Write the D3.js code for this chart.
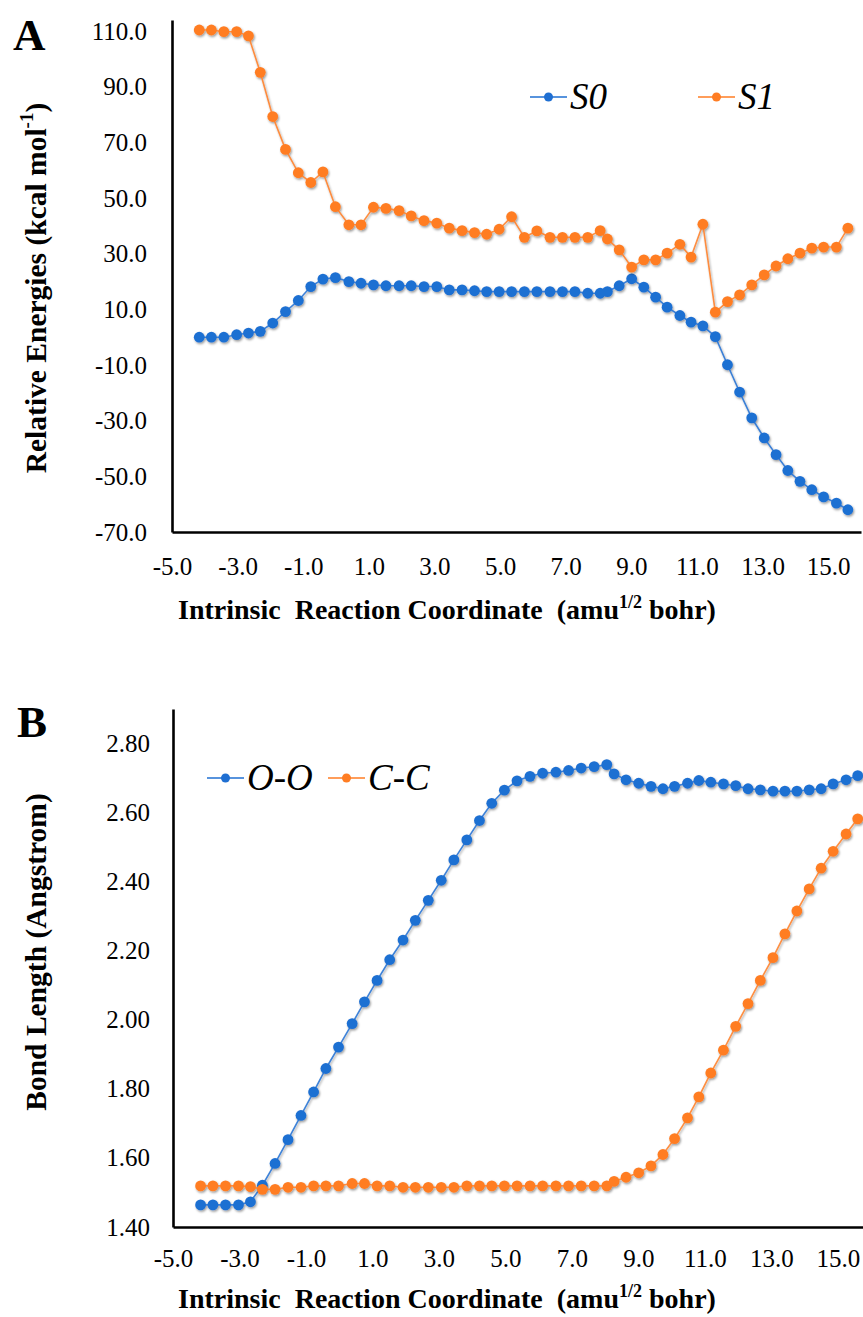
<!DOCTYPE html>
<html>
<head>
<meta charset="utf-8">
<script src="https://cdn.jsdelivr.net/npm/d3@7"></script>
<style>
  body { margin: 0; background: #fff; }
  svg { display: block; font-family: "Liberation Serif", "Times New Roman", serif; }
</style>
</head>
<body>
<div id="wrapper"></div>
<script>
// IRC coordinate of each point (same steps in both panels)
const irc = [
  -4.17, -3.80, -3.42, -3.03, -2.67, -2.31, -1.93, -1.54, -1.15, -0.77,
  -0.40, -0.02, 0.39, 0.76, 1.14, 1.52, 1.92, 2.29, 2.68, 3.07,
  3.45, 3.84, 4.22, 4.59, 4.97, 5.35, 5.74, 6.12, 6.52, 6.90,
  7.28, 7.67, 8.05, 8.27, 8.63, 9.01, 9.38, 9.74, 10.09, 10.48,
  10.82, 11.18, 11.56, 11.93, 12.30, 12.67, 13.05, 13.41, 13.77, 14.14,
  14.50, 14.86, 15.25, 15.60
]

// panel A: relative energies (kcal/mol)
const s0Energies = [
  0.0, 0.0, 0.0, 0.9, 1.5, 2.1, 5.1, 9.2, 13.2, 18.2,
  20.9, 21.4, 20.0, 19.4, 18.8, 18.5, 18.5, 18.5, 18.2, 18.2,
  17.0, 17.0, 16.7, 16.4, 16.4, 16.4, 16.4, 16.4, 16.4, 16.4,
  16.4, 15.8, 15.8, 16.4, 18.5, 21.0, 18.0, 14.4, 10.8, 7.8,
  5.4, 4.1, 0.2, -9.9, -19.7, -29.0, -36.2, -42.2, -47.9, -51.8,
  -54.8, -57.4, -59.6, -62.0
]
const s1Energies = [
  110.4, 110.4, 109.8, 109.8, 108.3, 95.2, 79.3, 67.5, 59.1, 55.6,
  59.4, 46.9, 40.4, 40.4, 46.7, 46.3, 45.5, 43.6, 41.9, 41.0,
  39.2, 38.3, 37.6, 37.0, 38.8, 43.3, 35.9, 38.2, 35.9, 35.9,
  35.9, 35.9, 38.3, 35.3, 31.4, 25.2, 27.8, 27.8, 30.2, 33.4,
  28.8, 40.6, 9.0, 12.8, 15.2, 18.8, 22.4, 25.6, 28.2, 30.2,
  32.0, 32.4, 32.4, 39.2
]

// panel B: bond lengths (Angstrom)
const ooLengths = [
  1.464, 1.464, 1.464, 1.464, 1.473, 1.521, 1.584, 1.653, 1.723, 1.791,
  1.859, 1.921, 1.989, 2.052, 2.114, 2.174, 2.231, 2.288, 2.346, 2.404,
  2.463, 2.521, 2.577, 2.627, 2.665, 2.692, 2.705, 2.714, 2.717, 2.722,
  2.729, 2.733, 2.739, 2.712, 2.695, 2.685, 2.676, 2.669, 2.676, 2.685,
  2.693, 2.688, 2.683, 2.678, 2.669, 2.666, 2.662, 2.662, 2.662, 2.666,
  2.669, 2.683, 2.695, 2.707
]
const ccLengths = [
  1.519, 1.519, 1.519, 1.519, 1.517, 1.509, 1.509, 1.515, 1.515, 1.519,
  1.519, 1.519, 1.526, 1.526, 1.519, 1.519, 1.515, 1.515, 1.515, 1.515,
  1.515, 1.519, 1.519, 1.519, 1.519, 1.519, 1.519, 1.519, 1.519, 1.519,
  1.519, 1.519, 1.519, 1.532, 1.544, 1.557, 1.577, 1.610, 1.656, 1.716,
  1.777, 1.846, 1.912, 1.981, 2.047, 2.114, 2.180, 2.249, 2.315, 2.379,
  2.439, 2.488, 2.538, 2.582
]

const xTicks = [-5, -3, -1, 1, 3, 5, 7, 9, 11, 13, 15]
const energyTicks = [-70, -50, -30, -10, 10, 30, 50, 70, 90, 110]
const bondTicks = [1.4, 1.6, 1.8, 2.0, 2.2, 2.4, 2.6, 2.8]

const blue = "#1f6fd2"
const orange = "#ff7d23"

const width = 863
const height = 1317

// plain hyphen for negatives, as in the original figure
const fmt = d3.formatLocale({ decimal: ".", thousands: ",", grouping: [3], currency: ["", ""], minus: "-" })

const wrapper = d3.select("#wrapper")
  .append("svg")
    .attr("width", width)
    .attr("height", height)

// soft shadow under the series, like the Excel effect
const shadow = wrapper.append("defs").append("filter")
    .attr("id", "shadow")
    .attr("x", "-20%").attr("y", "-20%")
    .attr("width", "140%").attr("height", "140%")
shadow.append("feDropShadow")
    .attr("dx", 1).attr("dy", 1.5)
    .attr("stdDeviation", 1.2)
    .attr("flood-color", "#000")
    .attr("flood-opacity", 0.4)

function drawPanel(p) {
  const xScale = d3.scaleLinear()
    .domain([-5, 16])
    .range([p.left, p.right])

  const yScale = d3.scaleLinear()
    .domain(p.yDomain)
    .range([p.bottom, p.top])

  // axes: only the black lines and labels, no tick marks
  const yAxis = wrapper.append("g")
      .attr("transform", `translate(${p.left},0)`)
      .call(d3.axisLeft(yScale)
        .tickValues(p.yTicks)
        .tickFormat(fmt.format(p.yFormat))
        .tickSize(0)
        .tickPadding(p.yPad))
  const xAxis = wrapper.append("g")
      .attr("transform", `translate(0,${p.bottom})`)
      .call(d3.axisBottom(xScale)
        .tickValues(xTicks)
        .tickFormat(fmt.format(".1f"))
        .tickSize(0)
        .tickPadding(p.xPad))

  wrapper.selectAll(".domain")
      .attr("stroke", "#000")
      .attr("stroke-width", 2.6)
  ;[xAxis, yAxis].forEach(ax => ax.selectAll("text")
      .attr("fill", "#000")
      .style("font-family", "Liberation Serif")
      .style("font-size", "25px"))

  // series
  p.series.forEach(s => {
    const g = wrapper.append("g").attr("filter", "url(#shadow)")
    const pts = irc.map((x, i) => [x, s.values[i]])
    const line = d3.line()
      .x(d => xScale(d[0]))
      .y(d => yScale(d[1]))
    g.append("path")
        .datum(pts)
        .attr("d", line)
        .attr("fill", "none")
        .attr("stroke", s.color)
        .attr("stroke-opacity", 0.85)
        .attr("stroke-width", 1.6)
    g.selectAll("circle")
      .data(pts)
      .enter().append("circle")
        .attr("cx", d => xScale(d[0]))
        .attr("cy", d => yScale(d[1]))
        .attr("r", 5.4)
        .attr("fill", s.color)
  })

  // legend
  p.series.forEach(s => {
    const g = wrapper.append("g")
    g.append("line")
        .attr("x1", s.lx).attr("x2", s.lx + 37)
        .attr("y1", p.legendY).attr("y2", p.legendY)
        .attr("stroke", s.color)
        .attr("stroke-width", 1.6)
    g.append("circle")
        .attr("cx", s.lx + 18.5).attr("cy", p.legendY)
        .attr("r", 4.5)
        .attr("fill", s.color)
    g.append("text")
        .attr("x", s.lx + 40)
        .attr("y", p.legendY + 12)
        .style("font-size", "37px")
        .style("font-style", "italic")
        .text(s.name)
  })

  // panel letter
  wrapper.append("text")
      .attr("x", p.letterX)
      .attr("y", p.letterY)
      .style("font-size", "45px")
      .style("font-weight", "bold")
      .text(p.letter)

  // x axis title
  const xt = wrapper.append("text")
      .attr("x", 447)
      .attr("y", p.xTitleY)
      .attr("text-anchor", "middle")
      .style("font-size", "28px")
      .style("font-weight", "bold")
      .style("white-space", "pre")
  xt.append("tspan").text("Intrinsic  Reaction Coordinate  (amu")
  xt.append("tspan").attr("dy", -11).style("font-size", "18px").text("1/2")
  xt.append("tspan").attr("dy", 11).text(" bohr)")

  // y axis title
  const yt = wrapper.append("text")
      .attr("transform", `translate(36,${p.yTitleY}) rotate(-90)`)
      .attr("text-anchor", "middle")
      .attr("dominant-baseline", "central")
      .style("font-size", "29.5px")
      .style("font-weight", "bold")
  p.yTitle(yt)
}

drawPanel({
  letter: "A", letterX: 13, letterY: 50,
  top: 20, bottom: 532, left: 172, right: 861,
  yDomain: [-70, 114], yTicks: energyTicks, yFormat: ".1f",
  yPad: 25, xPad: 25,
  xTitleY: 619, yTitleY: 288,
  legendY: 97,
  series: [
    { name: "S0", values: s0Energies, color: blue, lx: 530 },
    { name: "S1", values: s1Energies, color: orange, lx: 698 },
  ],
  yTitle: t => {
    t.append("tspan").text("Relative Energies (kcal mol")
    t.append("tspan").attr("dy", -10).style("font-size", "19px").text("-1")
    t.append("tspan").attr("dy", 10).text(")")
  },
})

drawPanel({
  letter: "B", letterX: 17, letterY: 737,
  top: 709, bottom: 1227, left: 173, right: 871,
  yDomain: [1.4, 2.9], yTicks: bondTicks, yFormat: ".2f",
  yPad: 23, xPad: 22,
  xTitleY: 1308, yTitleY: 952,
  legendY: 778,
  series: [
    { name: "O-O", values: ooLengths, color: blue, lx: 207 },
    { name: "C-C", values: ccLengths, color: orange, lx: 328 },
  ],
  yTitle: t => t.text("Bond Length (Angstrom)"),
})
</script>
</body>
</html>
